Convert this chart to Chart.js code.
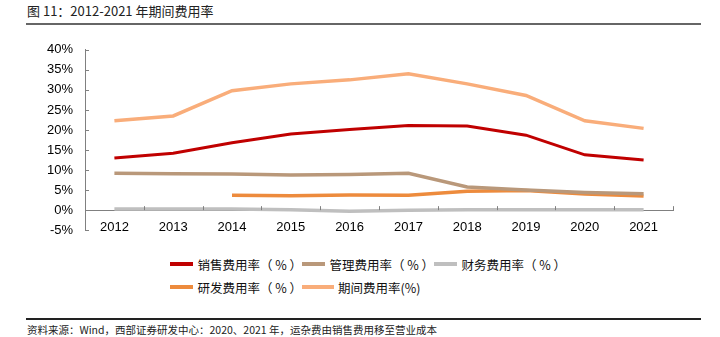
<!DOCTYPE html>
<html>
<head>
<meta charset="utf-8">
<script src="https://cdn.jsdelivr.net/npm/chart.js@4/dist/chart.umd.min.js"></script>
<style>
  body { margin: 0; width: 720px; height: 337px; background: #fff; position: relative; overflow: hidden;
         font-family: "Noto Sans CJK SC", sans-serif; }
  #title { position: absolute; left: 27px; top: 1px; font-size: 13px; color: #222; }
  #rule1 { position: absolute; left: 26px; top: 23px; width: 675px; height: 2px; background: #666; }
  #rule2 { position: absolute; left: 26px; top: 318px; width: 675px; height: 2px; background: #222; }
  #note { position: absolute; left: 27px; top: 322px; font-size: 10.5px; color: #222; }
  #wrap { position: absolute; left: 0; top: 30px; width: 720px; height: 220px; }
  #legend { position: absolute; left: 170px; top: 254px; display: grid;
            grid-template-columns: 132px 132px 132px; row-gap: 3px; }
  .item { display: flex; align-items: center; height: 20px; font-size: 12.5px; color: #111; white-space: nowrap; }
  .swatch { width: 32px; height: 4px; margin-right: 4px; }
</style>
</head>
<body>
<div id="title">图 11：2012-2021 年期间费用率</div>
<div id="rule1"></div>
<div id="wrap"><canvas id="myChart"></canvas></div>
<div id="legend"></div>
<div id="rule2"></div>
<div id="note">资料来源：Wind，西部证券研发中心：2020、2021 年，运杂费由销售费用移至营业成本</div>
<script>
const years = ["2012", "2013", "2014", "2015", "2016", "2017", "2018", "2019", "2020", "2021"];
const salesRate = [13.0, 14.2, 16.8, 19.0, 20.1, 21.1, 21.0, 18.7, 13.8, 12.5];
const mgmtRate = [9.2, 9.1, 9.0, 8.8, 8.9, 9.2, 5.8, 5.0, 4.4, 4.1];
const financeRate = [0.3, 0.3, 0.3, 0.1, -0.3, 0.0, 0.1, 0.1, 0.1, 0.1];
const rdRate = [null, null, 3.7, 3.6, 3.8, 3.7, 4.7, 4.9, 4.0, 3.5];
const periodRate = [22.3, 23.5, 29.8, 31.5, 32.5, 34.0, 31.5, 28.6, 22.3, 20.4];
const yTicks = [-5, 0, 5, 10, 15, 20, 25, 30, 35, 40];

const series = [
  { label: "销售费用率（ % ）", data: salesRate, color: "#C00000", width: 3 },
  { label: "管理费用率（ % ）", data: mgmtRate, color: "#B9987A", width: 3.5 },
  { label: "财务费用率（ % ）", data: financeRate, color: "#BFBFBF", width: 3.5 },
  { label: "研发费用率（ % ）", data: rdRate, color: "#ED8B3D", width: 3.5 },
  { label: "期间费用率(%)", data: periodRate, color: "#F9AD7A", width: 3.5 }
];

// inward tick marks like the original
const innerTicks = {
  id: "innerTicks",
  afterDraw(chart) {
    const c = chart.ctx;
    const x = chart.scales.x, y = chart.scales.y;
    c.save();
    c.strokeStyle = "#808080";
    c.lineWidth = 1;
    c.beginPath();
    yTicks.forEach(v => {
      const py = Math.round(y.getPixelForValue(v)) + 0.5;
      c.moveTo(y.right, py);
      c.lineTo(y.right + 4, py);
    });
    const y0 = y.getPixelForValue(0);
    const step = (x.right - x.left) / years.length;
    for (let i = 1; i <= years.length; i++) {
      const px = Math.round(x.left + step * i) + 0.5;
      c.moveTo(px, y0);
      c.lineTo(px, y0 - 4);
    }
    c.stroke();
    c.restore();
  }
};

const ctx = document.getElementById("myChart");
new Chart(ctx, {
  type: "line",
  data: {
    labels: years,
    datasets: series.map(s => ({
      label: s.label,
      data: s.data,
      borderColor: s.color,
      backgroundColor: s.color,
      borderWidth: s.width,
      pointRadius: 0,
      tension: 0,
      fill: false
    }))
  },
  options: {
    responsive: true,
    maintainAspectRatio: false,
    animation: false,
    layout: { padding: { top: 10, right: 47, bottom: 16, left: 0 } },
    plugins: { legend: { display: false }, tooltip: { enabled: false } },
    scales: {
      x: {
        position: { y: 0 },
        offset: true,
        grid: { display: false, drawTicks: false },
        border: { display: true, color: "#808080", width: 1 },
        ticks: { color: "#000", font: { family: "Liberation Sans", size: 13 }, padding: 9, maxRotation: 0 }
      },
      y: {
        min: -5,
        max: 40,
        afterFit(scale) { scale.width = 85; },
        afterBuildTicks(scale) { scale.ticks = yTicks.map(v => ({ value: v })); },
        grid: { display: false, drawTicks: false },
        border: { display: true, color: "#808080", width: 1 },
        ticks: {
          color: "#000",
          font: { family: "Liberation Sans", size: 13 },
          padding: 12,
          callback: v => v + "%"
        }
      }
    }
  },
  plugins: [innerTicks]
});

const legend = document.getElementById("legend");
series.forEach(s => {
  const item = document.createElement("div");
  item.className = "item";
  item.innerHTML = '<span class="swatch" style="background:' + s.color + '"></span>' + s.label;
  legend.appendChild(item);
});
</script>
</body>
</html>
